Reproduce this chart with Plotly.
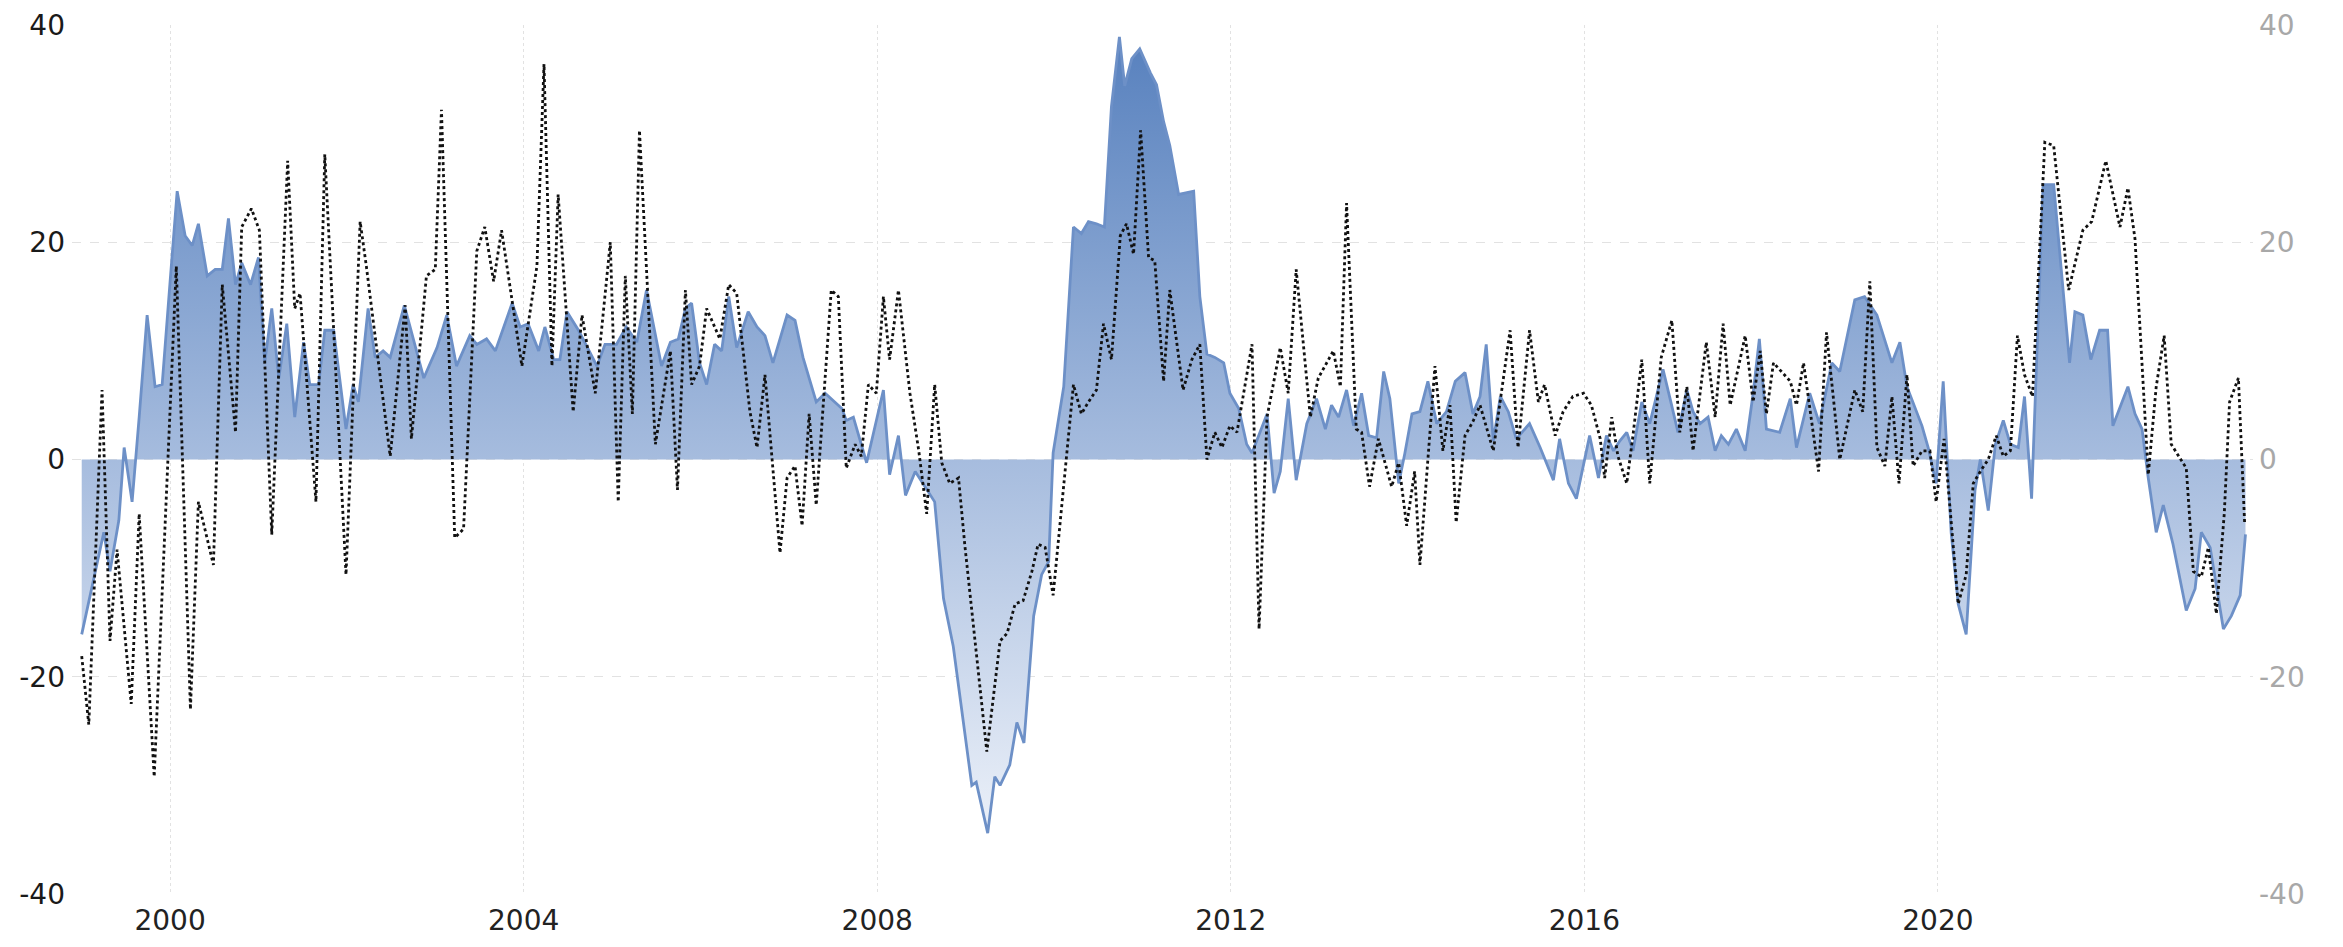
import plotly.graph_objects as go

# ---- data (decimal years) ----
blue_x = [1999.00,1999.11,1999.25,1999.32,1999.42,1999.48,1999.57,1999.65,1999.74,1999.83,1999.91,
          2000.00,2000.08,2000.17,2000.25,2000.32,2000.42,2000.51,2000.59,2000.66,2000.74,2000.81,2000.91,
          2001.00,2001.07,2001.15,2001.23,2001.32,2001.41,2001.51,2001.58,2001.68,2001.75,2001.85,2001.99,
          2002.07,2002.13,2002.24,2002.32,2002.41,2002.49,2002.65,2002.87,2003.02,2003.13,2003.24,2003.39,
          2003.47,2003.58,2003.68,2003.87,2003.96,2004.05,2004.17,2004.24,2004.34,2004.41,2004.49,2004.62,
          2004.83,2004.92,2005.05,2005.16,2005.28,2005.39,2005.56,2005.66,2005.75,2005.83,2005.90,2005.99,
          2006.07,2006.16,2006.24,2006.32,2006.41,2006.54,2006.64,2006.73,2006.82,2006.98,2007.07,2007.16,
          2007.31,2007.41,2007.60,2007.65,2007.73,2007.88,2008.07,2008.14,2008.24,2008.32,2008.43,2008.56,
          2008.65,2008.75,2008.86,2009.07,2009.12,2009.25,2009.33,2009.39,2009.50,2009.58,2009.66,2009.77,
          2009.86,2009.94,2009.99,2010.11,2010.22,2010.31,2010.39,2010.48,2010.57,2010.65,2010.74,2010.80,
          2010.88,2010.97,2011.09,2011.16,2011.24,2011.31,2011.41,2011.58,2011.65,2011.73,2011.82,2011.92,
          2011.99,2012.09,2012.18,2012.24,2012.33,2012.41,2012.49,2012.56,2012.65,2012.74,2012.86,2012.97,
          2013.07,2013.14,2013.22,2013.31,2013.39,2013.48,2013.56,2013.65,2013.73,2013.80,2013.90,2013.97,
          2014.05,2014.14,2014.23,2014.33,2014.44,2014.54,2014.65,2014.74,2014.82,2014.89,2014.97,2015.05,
          2015.14,2015.23,2015.38,2015.50,2015.65,2015.72,2015.82,2015.91,2016.06,2016.16,2016.25,2016.33,
          2016.40,2016.48,2016.55,2016.65,2016.74,2016.89,2016.97,2017.06,2017.16,2017.23,2017.31,2017.40,
          2017.48,2017.55,2017.63,2017.72,2017.82,2017.91,2017.98,2018.06,2018.21,2018.33,2018.40,2018.55,
          2018.66,2018.80,2018.89,2019.06,2019.17,2019.31,2019.48,2019.57,2019.65,2019.82,2019.89,2019.98,
          2020.06,2020.15,2020.23,2020.32,2020.42,2020.48,2020.57,2020.65,2020.74,2020.82,2020.91,2020.98,
          2021.06,2021.19,2021.31,2021.49,2021.55,2021.64,2021.73,2021.83,2021.92,2021.98,2022.15,2022.23,
          2022.31,2022.38,2022.47,2022.55,2022.66,2022.81,2022.91,2022.98,2023.08,2023.23,2023.32,2023.42,
          2023.48]
blue_y = [-16.1,-11.9,-6.7,-10.3,-5.6,1.1,-3.9,3.9,13.3,6.7,6.9,
          16.4,24.7,20.6,19.7,21.7,16.9,17.5,17.5,22.2,16.1,18.1,16.1,
          18.6,8.9,13.9,7.5,12.5,3.9,10.8,6.9,6.9,11.9,11.9,2.8,
          6.9,5.3,13.9,9.4,10.0,9.4,14.2,7.5,10.3,13.3,8.6,11.4,
          10.6,11.1,10.0,14.4,12.2,12.5,10.0,12.2,9.2,9.2,13.6,11.9,
          8.6,10.6,10.6,12.2,10.8,15.6,8.6,10.8,11.1,13.9,14.4,8.9,
          6.9,10.6,10.0,15.0,10.3,13.6,12.2,11.4,8.9,13.3,12.8,9.4,
          5.3,6.1,4.7,3.6,3.9,-0.3,6.4,-1.4,2.2,-3.3,-1.1,-2.8,
          -3.9,-12.8,-17.2,-30.0,-29.7,-34.4,-29.2,-30.0,-28.1,-24.2,-26.1,-14.4,
          -10.6,-9.4,0.6,6.7,21.4,20.8,21.9,21.7,21.4,32.5,38.9,34.4,
          36.9,37.8,35.6,34.5,31.1,28.9,24.4,24.7,15.0,9.7,9.4,8.9,
          6.1,4.7,1.4,0.6,2.5,4.2,-3.1,-1.1,5.6,-1.9,3.3,5.6,
          2.8,5.0,3.9,6.4,3.1,6.1,2.2,2.0,8.1,5.6,-2.2,0.6,
          4.2,4.4,7.2,3.3,4.4,7.2,8.0,4.2,5.8,10.6,1.7,5.8,
          4.4,1.9,3.3,1.1,-1.9,1.9,-2.2,-3.6,2.2,-1.7,2.2,0.8,
          1.7,2.5,0.8,5.3,3.3,8.3,5.6,2.5,6.4,4.4,3.3,3.9,
          0.8,2.2,1.4,2.8,0.8,6.1,11.1,2.8,2.5,5.6,1.1,6.1,
          3.3,8.9,8.1,14.7,15.0,13.3,8.9,10.8,6.7,3.1,1.1,-2.2,
          7.2,-6.7,-13.3,-16.1,-2.8,0.0,-4.7,1.4,3.6,1.4,1.1,5.8,
          -3.6,25.3,25.3,8.9,13.6,13.3,9.2,11.9,11.9,3.1,6.7,4.2,
          2.8,-1.7,-6.7,-4.2,-7.8,-13.9,-11.9,-6.7,-8.1,-15.6,-14.4,-12.5,
          -6.9]

dot_x = [1999.00,1999.08,1999.23,1999.32,1999.40,1999.56,1999.65,1999.82,2000.07,2000.23,2000.32,
         2000.49,2000.59,2000.74,2000.81,2000.92,2001.01,2001.15,2001.33,2001.41,2001.47,2001.65,2001.75,
         2001.99,2002.15,2002.22,2002.49,2002.66,2002.73,2002.90,2003.00,2003.07,2003.22,2003.32,2003.47,
         2003.56,2003.66,2003.75,2003.98,2004.15,2004.23,2004.32,2004.39,2004.56,2004.66,2004.81,2004.98,
         2005.07,2005.15,2005.23,2005.31,2005.49,2005.66,2005.74,2005.83,2005.90,2005.99,2006.07,2006.22,
         2006.32,2006.41,2006.56,2006.64,2006.73,2006.90,2006.98,2007.07,2007.15,2007.23,2007.31,2007.48,
         2007.56,2007.65,2007.75,2007.82,2007.90,2007.99,2008.07,2008.14,2008.24,2008.37,2008.47,2008.56,
         2008.65,2008.73,2008.82,2008.92,2008.99,2009.24,2009.39,2009.47,2009.56,2009.65,2009.75,2009.82,
         2009.90,2009.99,2010.07,2010.22,2010.31,2010.39,2010.48,2010.56,2010.65,2010.75,2010.82,2010.90,
         2010.98,2011.07,2011.14,2011.24,2011.31,2011.46,2011.56,2011.65,2011.73,2011.82,2011.90,2011.99,
         2012.07,2012.24,2012.32,2012.41,2012.56,2012.65,2012.74,2012.90,2012.99,2013.16,2013.24,2013.31,
         2013.42,2013.48,2013.57,2013.67,2013.82,2013.90,2013.99,2014.08,2014.14,2014.31,2014.40,2014.48,
         2014.55,2014.65,2014.74,2014.82,2014.97,2015.06,2015.16,2015.25,2015.38,2015.48,2015.55,2015.67,
         2015.76,2015.87,2015.99,2016.08,2016.18,2016.23,2016.31,2016.38,2016.48,2016.55,2016.65,2016.74,
         2016.87,2016.99,2017.08,2017.16,2017.23,2017.38,2017.48,2017.57,2017.65,2017.82,2017.91,2017.99,
         2018.06,2018.14,2018.33,2018.40,2018.48,2018.65,2018.74,2018.89,2019.06,2019.15,2019.23,2019.31,
         2019.40,2019.48,2019.56,2019.65,2019.72,2019.82,2019.91,2019.98,2020.07,2020.23,2020.32,2020.40,
         2020.48,2020.57,2020.66,2020.74,2020.82,2020.90,2020.98,2021.07,2021.21,2021.31,2021.48,2021.64,
         2021.74,2021.90,2022.06,2022.15,2022.23,2022.38,2022.47,2022.56,2022.64,2022.81,2022.89,2022.98,
         2023.06,2023.15,2023.24,2023.30,2023.40,2023.47]
dot_y = [-18.1,-24.4,6.4,-16.7,-8.3,-22.5,-5.0,-29.2,17.8,-23.0,-3.9,
         -9.7,16.1,2.5,21.4,23.1,21.1,-6.9,27.5,13.9,15.3,-3.9,28.1,
         -10.6,21.9,17.8,0.3,14.2,1.9,16.9,17.5,32.2,-7.2,-6.4,19.2,
         21.4,16.4,21.1,8.6,17.8,36.4,8.6,24.4,4.4,13.3,6.1,20.0,
         -3.9,16.9,4.2,30.3,1.4,10.0,-2.8,15.6,6.9,8.6,13.9,11.1,
         16.1,15.3,4.4,1.1,7.8,-8.6,-1.7,-0.6,-6.1,4.2,-4.2,15.6,
         15.0,-0.8,1.4,0.3,6.9,6.1,15.0,9.2,15.6,6.1,0.8,-5.0,
         6.9,-0.3,-2.2,-1.7,-7.8,-26.9,-16.7,-16.0,-13.3,-13.0,-10.3,-7.8,
         -8.1,-12.5,-5.6,6.9,4.2,5.3,6.4,12.5,9.2,20.6,21.7,18.9,
         30.3,18.6,18.3,7.2,15.6,6.4,9.2,10.6,0.0,2.5,1.1,3.1,
         2.5,10.6,-15.6,3.9,10.3,6.1,17.5,3.9,7.5,10.0,6.7,23.6,
         2.8,2.5,-2.5,1.9,-2.5,-0.3,-6.1,-1.1,-9.7,8.6,0.8,5.0,
         -5.8,2.2,3.5,5.0,0.8,6.1,11.9,1.1,11.9,5.3,6.9,2.2,
         4.4,5.8,6.1,5.0,1.9,-1.7,3.9,0.3,-2.2,2.2,9.2,-2.2,
         9.4,12.8,2.5,6.7,0.8,10.8,3.9,12.5,5.0,11.4,5.3,10.0,
         4.2,8.9,7.2,5.0,8.9,-1.1,11.7,0.0,6.4,4.4,16.4,1.1,
         -0.6,5.8,-2.2,7.8,-0.6,0.8,0.8,-3.9,1.9,-13.3,-10.6,-2.2,
         -1.1,0.0,2.2,0.3,0.8,11.4,7.8,5.8,29.2,28.9,15.6,21.1,
         21.9,27.5,21.4,25.0,20.3,-1.4,6.7,11.4,1.4,-0.8,-10.3,-10.8,
         -8.1,-14.2,-5.0,5.3,7.5,-5.8]

year_ticks = [2000, 2004, 2008, 2012, 2016, 2020]
value_ticks = [-40, -20, 0, 20, 40]
value_labels = ["-40", "-20", "0", "20", "40"]

FONT = "DejaVu Sans"
GRID = "#e2e2e2"

fig = go.Figure()
fig.add_trace(go.Scatter(
    x=blue_x, y=blue_y, mode="lines", fill="tozeroy",
    line=dict(color="#6d90c7", width=2.8),
    fillgradient=dict(type="vertical", start=-40, stop=40,
                      colorscale=[[0.0, "#f7f9fd"], [0.5, "#a6bcde"], [1.0, "#557fbd"]]),
    hoverinfo="skip", showlegend=False))
fig.add_trace(go.Scatter(
    x=dot_x, y=dot_y, mode="lines", yaxis="y2",
    line=dict(color="#111111", width=2.8, dash="dot"),
    hoverinfo="skip", showlegend=False))

# page body has an 8px default margin; the figure is sized to fit inside it
fig.update_layout(
    template="none",
    width=2327, height=931,
    margin=dict(l=64, r=82, t=17, b=45, autoexpand=False),
    paper_bgcolor="white", plot_bgcolor="white",
    font=dict(family=FONT, size=28, color="#222222"),
    xaxis=dict(range=[1998.89, 2023.565], tickmode="array", tickvals=year_ticks,
               ticktext=[str(t) for t in year_ticks], showgrid=True, gridcolor=GRID,
               griddash="dot", gridwidth=1, zeroline=False, showline=False,
               ticks="", ticklabelstandoff=7, automargin=False,
               tickfont=dict(color="#222222")),
    yaxis=dict(range=[-40, 40], tickmode="array", tickvals=value_ticks, ticktext=value_labels,
               showgrid=True, gridcolor=GRID, griddash="dash", gridwidth=1,
               zeroline=False, showline=False, ticks="", ticklabelstandoff=6,
               automargin=False, tickfont=dict(color="#1a1a1a")),
    yaxis2=dict(range=[-40, 40], overlaying="y", side="right", tickmode="array",
                tickvals=value_ticks, ticktext=value_labels, showgrid=False,
                zeroline=False, showline=False, ticks="", ticklabelstandoff=5,
                automargin=False, tickfont=dict(color="#a8a8a8")),
)

fig.write_html("out.html")
